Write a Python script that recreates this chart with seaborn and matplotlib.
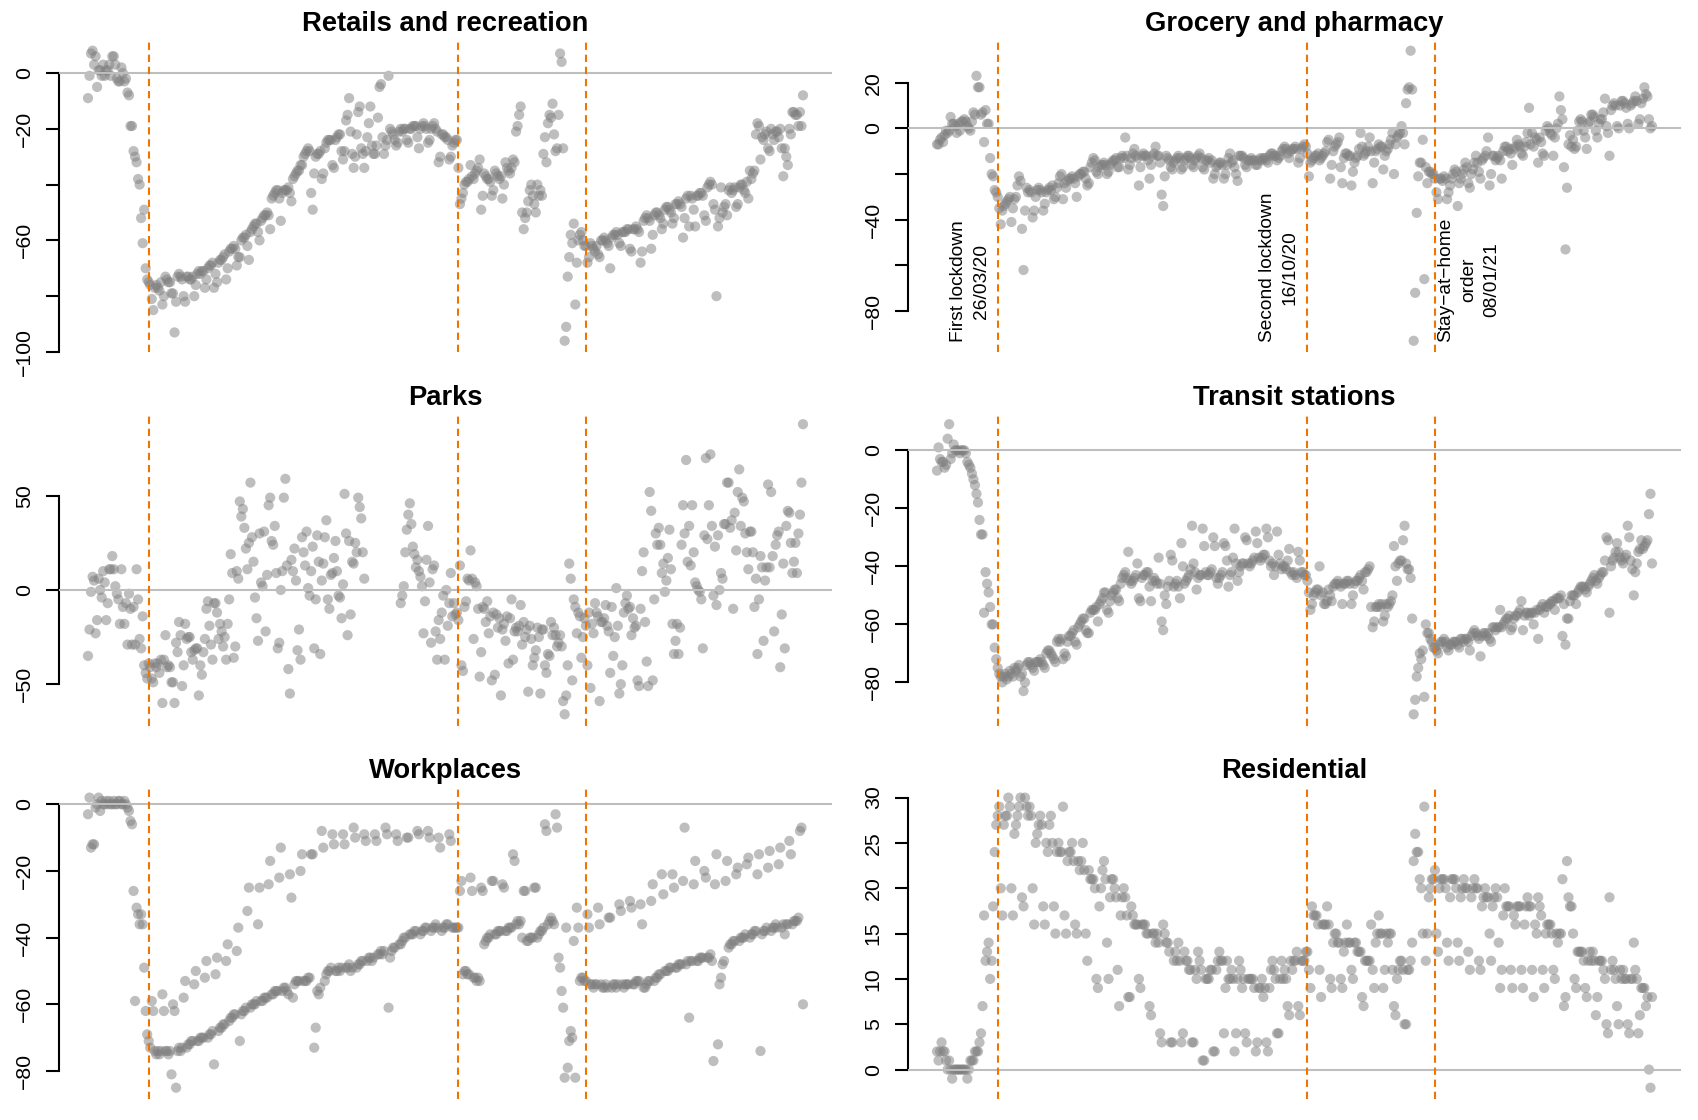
import numpy as np
import pandas as pd
import matplotlib
matplotlib.use("Agg")
import matplotlib.pyplot as plt
import seaborn as sns

# ---------------- data (Google mobility, Northern Ireland, % change from baseline) ----------------
START_DATE = "2020-02-15"
EVENT_DATES = ["2020-03-26", "2020-10-16", "2021-01-08"]
EVENT_LABELS = ["First lockdown\n26/03/20", "Second lockdown\n16/10/20",
                "Stay\u2212at\u2212home\norder\n08/01/21"]
TITLES = ["Retails and recreation", "Grocery and pharmacy", "Parks",
          "Transit stations", "Workplaces", "Residential"]
nan = np.nan

# each row = one week, Saturday ... Friday
retail_weeks = [
    [-9, -1, 7, 8, 3, 6, -5], [1, 1, -1, 3, -1, 1, 1], [3, -1, 6, 6, 3, -2, -3],
    [-3, 2, 0, -3, -2, -7, -8], [-19, -19, -28, -30, -32, -38, -40], [-52, -61, -49, -70, -74, -75, -76],
    [-81, -85, -77, -76, -77, -78, -75], [-83, -80, -73, -74, -75, -75, -79], [-79, -93, -82, -73, -72, -73, -74],
    [-80, -82, -73, -73, -74, -74, -73], [-80, -76, -72, -71, -72, -71, -71], [-77, -74, -70, -69, -69, -68, -77],
    [-72, -75, -68, -67, -67, -66, -65], [-74, -70, -64, -63, -63, -62, -63], [-69, -66, -66, -60, -59, -59, -58],
    [-62, -67, -57, -56, -55, -54, -54], [-57, -60, -53, -52, -51, -51, -50], [-51, -56, -45, -44, -43, -42, -42],
    [-45, -53, -43, -42, -42, -42, -41], [-43, -46, -38, -37, -36, -35, -35], [-33, -33, -30, -29, -28, -27, -28],
    [-43, -49, -36, -30, -29, -29, -28], [-38, -36, -27, -25, -24, -24, -24], [-33, -34, -24, -23, -22, -22, -28],
    [-31, -28, -17, -15, -9, -21, -29], [-34, -30, -22, -14, -12, -27, -29], [-34, -28, -23, -18, -12, -26, -29],
    [-29, -26, -16, -5, -4, -23, -29], [-26, -24, -1, -20, -21, -22, -24], [-26, -25, -21, -20, -21, -20, -20],
    [-24, -25, -20, -20, -19, -19, -19], [-23, -27, -20, -19, -18, -19, -20], [-25, -24, -20, -19, -18, -20, -21],
    [-32, -30, -22, -22, -23, -23, -24], [-31, -30, -26, -25, -24, -24, -34], [-47, -45, -43, -40, -39, -39, -38],
    [-33, -37, -38, -36, -35, -34, -31], [-49, -44, -36, -37, -38, -38, -39], [-44, -42, -35, -36, -37, -38, -37],
    [-45, -40, -32, -34, -35, -36, -34], [-31, -32, -21, -19, -15, -12, -50], [-56, -52, -50, -46, -42, -40, -44],
    [-47, -50, -40, -44, -42, -44, -29], [-23, -32, -18, -15, -16, -11, -22], [-28, -27, -15, 7, 4, -27, -96],
    [-91, -73, -66, -58, -61, -54, -83], [-68, -60, -58, -57, -60, -62, -62], [-68, -66, -61, -62, -63, -64, -62],
    [-65, -66, -60, -60, -59, -60, -61], [-62, -70, -59, -58, -58, -57, -58], [-61, -62, -57, -57, -57, -56, -56],
    [-63, -64, -56, -56, -55, -56, -57], [-68, -64, -53, -52, -51, -52, -53], [-63, -58, -51, -50, -50, -51, -52],
    [-56, -54, -49, -48, -48, -49, -50], [-54, -52, -47, -47, -46, -47, -48], [-59, -52, -45, -44, -55, -44, -45],
    [-49, -55, -44, -44, -43, -43, -44], [-51, -53, -41, -40, -39, -40, -47], [-49, -80, -55, -52, -41, -50, -48],
    [-47, -51, -42, -41, -43, -42, -41], [-48, -47, -41, -40, -40, -42, -43], [-39, -45, -35, -38, -36, -35, -22],
    [-18, -19, -31, -23, -24, -22, -21], [-27, -28, -20, -22, -24, -21, -21], [-23, -20, -27, -37, -27, -30, -33],
    [-20, -22, -14, -14, -15, -15, -19], [-14, -19, -8],
]

grocery_weeks = [
    [-7, -7, -5, -4, -6, -3, -1], [-2, -1, 5, 2, 2, 1, -2], [2, -1, 3, 3, 4, 3, 1],
    [0, -1, 3, 7, 6, 23, 18], [18, 6, 7, -6, 8, 2, 2], [-13, -20, -21, -27, -28, -30, -35],
    [-42, -36, -34, -33, -32, -31, -30], [-41, -35, -31, -30, -25, -21, -23], [-44, -62, -36, -26, -28, -27, -28],
    [-39, -36, -30, -27, -26, -27, -28], [-36, -33, -28, -27, -26, -27, -25], [-31, -30, -26, -24, -21, -20, -31],
    [-24, -26, -23, -22, -22, -21, -22], [-24, -30, -21, -20, -20, -19, -19], [-22, -25, -24, -17, -15, -13, -14],
    [-19, -20, -17, -16, -16, -15, -16], [-20, -19, -16, -15, -14, -14, -13], [-17, -17, -13, -12, -13, -4, -12],
    [-18, -16, -13, -11, -9, -12, -13], [-25, -17, -12, -11, -12, -12, -14], [-22, -16, -12, -11, -8, -12, -12],
    [-15, -29, -34, -21, -12, -13, -14], [-17, -18, -15, -14, -13, -12, -13], [-18, -17, -14, -13, -12, -12, -13],
    [-16, -17, -14, -13, -12, -11, -13], [-17, -18, -14, -14, -13, -15, -14], [-22, -20, -17, -16, -15, -15, -16],
    [-22, -20, -16, -13, -11, -15, -14], [-17, -20, -23, -12, -12, -12, -13], [-16, -17, -14, -14, -13, -14, -14],
    [-16, -16, -14, -13, -14, -13, -13], [-14, -15, -12, -11, -11, -12, -12], [-14, -13, -12, -10, -9, -8, -9],
    [-11, -13, -10, -9, -9, -8, -9], [-15, -13, -9, -8, -7, -8, -11], [-21, -15, -14, -13, -12, -12, -11],
    [-14, -13, -12, -11, -10, -6, -5], [-22, -16, -10, -8, -7, -6, -4], [-17, -24, -13, -11, -11, -12, -12],
    [-25, -19, -15, -13, -12, -9, -2], [-8, -12, -11, -10, -8, -4, -10], [-24, -15, -10, -9, -7, -8, -8],
    [-18, -12, -10, -9, -7, -5, -2], [-20, -7, -4, -3, -2, 1, -2], [-7, 11, 17, 18, 34, 17, -93],
    [-72, -37, -21, -15, -15, -5, -66], [-17, -24, -19, -19, -20, -20, -22], [-28, -31, -22, -22, -23, -21, -22],
    [-31, -28, -25, -22, -20, -18, -19], [-34, -24, -22, -20, -18, -15, -17], [-24, -26, -20, -18, -15, -12, -15],
    [-19, -22, -14, -13, -12, -10, -4], [-25, -20, -12, -12, -14, -13, -12], [-14, -22, -10, -8, -8, -10, -9],
    [-11, -16, -9, -8, -5, -7, -8], [-11, -12, -8, -6, -2, 9, -7], [-2, -8, -4, -5, -15, -4, -6],
    [-11, -12, -1, 1, 0, -2, -3], [-12, -4, 0, 2, 14, 8, 4], [-17, -53, -26, -7, -3, -8, -5],
    [-9, -8, -1, 3, 4, 3, -1], [-4, -9, 2, 3, 6, 6, 5], [-1, -4, 2, 4, 4, 7, 13],
    [1, -2, -12, 8, 10, 11, 10], [1, 0, 10, 12, 12, 11, 9], [2, 0, 10, 11, 12, 14, 12],
    [2, 4, 11, 13, 18, 15, 14], [4, 0, 1],
]

parks_weeks = [
    [-35, -21, -1, 7, 5, -23, -16], [6, 0, -4, 10, 4, -16, -7], [11, 11, 18, 11, 2, -2, -5],
    [-18, 11, -9, -18, -7, -29, -2], [-10, -29, -9, -29, 11, -5, -26], [-31, -14, -40, -44, -47, -39, -41],
    [-47, -49, -39, -41, -39, -44, -37], [-60, -37, -24, -41, -40, -41, -49], [-49, -60, -28, -33, -17, -24, -51],
    [-40, -18, -26, -25, -25, -33, -37], [-32, -31, -31, -56, -40, -45, -33], [-26, -10, -6, -19, -29, -37, -7],
    [-7, -12, -26, -18, -22, -30, -25], [-37, -18, -5, 19, 9, -36, -30], [10, 6, 47, 39, 43, 33, 22],
    [11, 25, 57, 28, 15, -4, -15], [-27, 30, 4, 2, 31, -22, 8], [45, 49, 26, 24, 34, 9, -31],
    [-28, 0, 10, 49, 59, 13, -42], [-55, 16, 10, 22, 5, -32, -21], [-37, 28, 20, 13, 31, 1, -3],
    [10, 23, -31, -5, 29, 15, -34], [5, 14, 28, 37, -5, -10, 8], [9, 17, 26, 10, -3, -4, -15],
    [3, 51, 30, -24, 26, -13, 15], [14, 25, 20, 49, 44, 38, 20], [6, nan, nan, nan, nan, nan, nan],
    [nan, nan, nan, nan, nan, nan, nan], [nan, nan, nan, nan, nan, nan, nan], [nan, nan, nan, -7, -3, 2, 20],
    [32, 40, 46, 35, 23, 19, 12], [16, 10, 7, 2, -23, -6, 16], [34, 4, -28, 11, 13, -22, -37],
    [-16, -26, -12, -3, -37, 0, -19], [-7, 9, -14, -7, -13, -12, -16], [13, -40, -43, -9, -6, 6, 5],
    [21, 6, -26, 4, 2, -10, -46], [-33, -9, -10, -17, -6, -23, -14], [-48, -12, -45, -13, -20, -15, -56],
    [-21, -18, -27, -14, -39, -15, -5], [-37, -22, -20, -22, -19, -8, -29], [-17, -25, -21, -54, -19, -26, -40],
    [-36, -32, -20, -25, -55, -21, -21], [-40, -44, -34, -35, -17, -24, -20], [-24, -30, -28, -24, -30, -59, -66],
    [-56, -40, 14, 6, -48, -5, -9], [-23, -12, -14, -36, -25, -15, -19], [-40, -12, -52, -18, -23, -7, -12],
    [-14, -59, -17, -17, -15, -8, -19], [-22, -44, -9, -35, -25, 1, -19], [-55, -50, -40, -12, -7, -3, -10],
    [-9, -24, -15, -20, -19, -48, -51], [-10, 10, 20, -17, -38, -51, 52], [42, -48, -5, 30, 24, 33, 24],
    [9, 14, -1, 5, 17, 32, 11], [-18, -34, -27, -18, -34, -20, 24], [45, 30, 69, 15, 34, 13, 45],
    [20, 4, 2, 0, -1, -5, -31], [29, 70, 27, 45, 72, 34, -3], [23, -8, 29, 0, 9, 6, 35],
    [35, 57, 57, 33, 37, -10, 41], [21, 52, 64, 34, 49, 47, 30], [20, 11, 31, 31, 20, -9, 6],
    [-34, -5, 18, 12, -27, 5, 12], [56, 12, 52, 18, -22, 24, 29], [31, -41, -13, 14, -31, 34, 42],
    [41, 25, 9, 15, 25, 9, 30], [40, 57, 88],
]

transit_weeks = [
    [-7, 1, -3, -4, -4, -6, -5], [4, 9, -3, -1, 2, 0, 0], [0, -1, 0, 0, 0, -1, -4],
    [-5, -6, -8, -10, -12, -15, -18], [-24, -29, -29, -56, -42, -46, -49], [-54, -60, -60, -68, -72, -75, -77],
    [-78, -80, -78, -77, -79, -78, -76], [-77, -78, -75, -76, -75, -74, -78], [-77, -83, -80, -74, -73, -73, -74],
    [-75, -76, -73, -73, -73, -72, -73], [-74, -75, -70, -69, -69, -70, -71], [-72, -73, -66, -65, -66, -65, -72],
    [-70, -71, -66, -64, -64, -63, -62], [-66, -67, -61, -60, -59, -58, -58], [-62, -63, -63, -56, -55, -55, -55],
    [-54, -59, -53, -52, -51, -49, -49], [-55, -56, -52, -50, -49, -48, -48], [-51, -52, -46, -44, -43, -42, -44],
    [-35, -45, -46, -45, -44, -43, -39], [-51, -52, -44, -43, -43, -42, -42], [-47, -52, -45, -44, -45, -46, -37],
    [-46, -59, -62, -50, -53, -47, -45], [-36, -38, -47, -46, -45, -47, -51], [-32, -40, -46, -45, -44, -43, -41],
    [-26, -39, -42, -48, -44, -43, -43], [-27, -33, -42, -43, -43, -42, -41], [-30, -33, -44, -46, -44, -43, -42],
    [-32, -33, -38, -47, -43, -42, -37], [-27, -39, -45, -42, -40, -39, -39], [-30, -31, -39, -40, -39, -38, -37],
    [-28, -32, -37, -38, -37, -36, -36], [-27, -30, -38, -40, -39, -43, -40], [-28, -36, -39, -41, -40, -40, -41],
    [-38, -34, -42, -43, -42, -43, -44], [-35, -38, -42, -42, -43, -43, -45], [-49, -55, -53, -50, -49, -48, -48],
    [-40, -50, -49, -53, -53, -52, -48], [-50, -52, -47, -46, -46, -45, -46], [-47, -53, -46, -46, -45, -45, -46],
    [-53, -50, -46, -45, -45, -44, -43], [-45, -48, -42, -42, -41, -40, -54], [-61, -59, -54, -54, -53, -54, -53],
    [-59, -57, -53, -54, -53, -52, -50], [-33, -40, -45, -39, -38, -38, -31], [-26, -39, -41, -41, -44, -58, -91],
    [-86, -78, -75, -70, -72, -69, -85], [-60, -63, -63, -65, -66, -68, -68], [-69, -70, -67, -66, -66, -65, -66],
    [-68, -69, -67, -67, -66, -66, -66], [-67, -68, -65, -65, -66, -65, -65], [-66, -69, -64, -63, -62, -63, -64],
    [-65, -71, -64, -63, -63, -64, -63], [-65, -66, -61, -61, -62, -61, -61], [-55, -61, -60, -59, -58, -58, -57],
    [-62, -61, -58, -57, -57, -56, -55], [-52, -62, -57, -56, -56, -57, -56], [-56, -60, -56, -55, -65, -55, -54],
    [-53, -56, -54, -54, -53, -53, -52], [-52, -55, -51, -51, -51, -50, -64], [-53, -67, -58, -58, -52, -50, -50],
    [-50, -53, -49, -48, -47, -47, -47], [-48, -49, -47, -46, -45, -44, -43], [-45, -46, -44, -43, -42, -42, -38],
    [-30, -31, -56, -40, -38, -37, -35], [-32, -35, -37, -38, -39, -37, -36], [-26, -30, -38, -41, -50, -42, -39],
    [-35, -34, -31, -34, -33, -32, -31], [-22, -15, -39],
]

workplaces_weeks = [
    [-3, 2, -13, -12, -12, -1, 0], [2, -2, 1, 0, 0, 1, 0], [1, 0, 0, 1, 0, 0, 1],
    [1, 0, 0, 1, 0, -1, -2], [-5, -6, -26, -59, -31, -33, -36], [-33, -36, -49, -62, -69, -71, -73],
    [-59, -62, -74, -75, -74, -75, -74], [-57, -62, -74, -74, -75, -74, -81], [-60, -62, -85, -74, -73, -74, -73],
    [-58, -53, -73, -72, -72, -71, -71], [-54, -50, -71, -71, -70, -70, -70], [-52, -47, -70, -69, -69, -68, -78],
    [-51, -46, -68, -67, -67, -66, -66], [-47, -42, -65, -64, -64, -63, -63], [-44, -37, -71, -63, -62, -62, -61],
    [-32, -25, -61, -60, -60, -60, -59], [-36, -25, -59, -59, -58, -58, -58], [-24, -17, -57, -57, -56, -56, -56],
    [-22, -13, -56, -55, -55, -56, -57], [-21, -28, -58, -54, -53, -53, -53], [-20, -15, -53, -53, -53, -52, -52],
    [-15, -15, -73, -67, -56, -57, -55], [-8, -13, -53, -51, -50, -50, -49], [-9, -12, -50, -50, -49, -50, -49],
    [-9, -12, -49, -49, -48, -50, -49], [-7, -10, -49, -48, -48, -47, -47], [-9, -11, -47, -46, -46, -47, -46],
    [-9, -11, -45, -45, -44, -45, -44], [-7, -9, -61, -46, -44, -43, -43], [-9, -11, -42, -42, -41, -40, -40],
    [-10, -10, -39, -39, -39, -38, -38], [-8, -9, -39, -38, -38, -37, -37], [-8, -10, -38, -37, -37, -36, -37],
    [-10, -13, -38, -37, -37, -36, -36], [-9, -11, -37, -37, -37, -37, -37], [-26, -23, -51, -50, -50, -51, -51],
    [-22, -26, -52, -52, -53, -52, -53], [-25, -26, -42, -41, -40, -40, -39], [-23, -23, -39, -39, -38, -38, -38],
    [-24, -25, -38, -38, -37, -37, -37], [-15, -17, -36, -35, -36, -35, -40], [-26, -26, -41, -41, -40, -40, -40],
    [-25, -25, -40, -39, -38, -38, -37], [-6, -8, -36, -35, -34, -35, -36], [-3, -7, -46, -49, -56, -61, -82],
    [-37, -79, -71, -68, -70, -41, -82], [-31, -37, -53, -52, -52, -53, -53], [-33, -37, -54, -54, -55, -54, -54],
    [-31, -36, -54, -55, -55, -54, -55], [-34, -34, -55, -54, -54, -55, -54], [-30, -32, -54, -55, -54, -54, -54],
    [-29, -31, -54, -54, -53, -53, -53], [-30, -36, -55, -55, -54, -53, -53], [-29, -24, -53, -52, -52, -51, -51],
    [-21, -27, -50, -50, -50, -49, -49], [-21, -25, -49, -49, -48, -48, -48], [-23, -7, -48, -47, -64, -47, -47],
    [-24, -17, -47, -47, -46, -46, -46], [-20, -22, -46, -46, -45, -47, -77], [-24, -15, -72, -54, -52, -48, -47],
    [-23, -17, -43, -42, -42, -41, -41], [-21, -19, -41, -40, -40, -40, -39], [-18, -16, -40, -39, -39, -38, -38],
    [-21, -15, -74, -39, -38, -38, -37], [-19, -14, -38, -37, -37, -36, -37], [-18, -13, -37, -36, -39, -36, -36],
    [-11, -15, -36, -35, -35, -35, -34], [-8, -7, -60],
]

residential_weeks = [
    [2, 1, 2, 3, 2, 2, 1], [0, 1, 0, -1, 0, 0, 0], [0, 0, 0, 0, 0, 0, -1],
    [0, 1, 1, 1, 2, 2, 2], [3, 4, 7, 17, 12, 13, 14], [10, 12, 18, 24, 27, 28, 29],
    [20, 17, 27, 28, 28, 30, 29], [20, 17, 26, 27, 28, 29, 30], [19, 18, 30, 29, 28, 29, 28],
    [20, 16, 25, 26, 27, 28, 27], [18, 16, 25, 24, 27, 28, 25], [18, 15, 24, 25, 24, 24, 29],
    [17, 15, 23, 24, 24, 25, 23], [16, 15, 23, 22, 23, 25, 22], [15, 12, 22, 21, 21, 21, 20],
    [10, 9, 18, 20, 22, 23, 21], [14, 10, 19, 21, 21, 20, 19], [11, 7, 17, 19, 20, 19, 17],
    [8, 8, 18, 17, 16, 16, 16], [10, 9, 16, 16, 16, 15, 15], [7, 6, 15, 15, 14, 15, 14],
    [4, 3, 16, 15, 14, 14, 13], [3, 3, 12, 13, 12, 14, 12], [3, 4, 13, 12, 12, 11, 11],
    [3, 3, 11, 10, 13, 12, 11], [1, 1, 10, 10, 10, 11, 11], [2, 2, 11, 12, 13, 12, 12],
    [4, 9, 12, 10, 10, 11, 10], [2, 4, 10, 12, 11, 9, 10], [4, 3, 10, 10, 10, 10, 9],
    [2, 3, 9, 9, 10, 8, 9], [3, 2, 9, 11, 12, 11, 10], [4, 4, 10, 12, 10, 11, 10],
    [7, 6, 12, 11, 12, 12, 13], [7, 6, 12, 12, 12, 13, 13], [11, 9, 18, 17, 17, 17, 16],
    [11, 8, 16, 16, 16, 18, 16], [10, 9, 14, 15, 15, 14, 14], [10, 9, 13, 14, 16, 14, 14],
    [11, 10, 14, 14, 13, 13, 13], [8, 7, 12, 12, 12, 12, 16], [11, 9, 14, 15, 17, 15, 15],
    [9, 11, 15, 14, 15, 15, 11], [7, 6, 10, 11, 12, 12, 11], [5, 5, 11, 11, 12, 14, 23],
    [26, 24, 24, 21, 20, 15, 29], [12, 15, 19, 20, 21, 21, 22], [15, 13, 20, 21, 21, 21, 20],
    [14, 12, 19, 21, 21, 21, 20], [14, 12, 19, 20, 21, 20, 20], [13, 11, 19, 20, 21, 20, 20],
    [12, 11, 18, 19, 20, 19, 19], [15, 12, 18, 19, 20, 19, 14], [9, 11, 17, 20, 18, 18, 18],
    [11, 9, 17, 16, 18, 18, 18], [11, 9, 16, 18, 19, 18, 18], [11, 8, 16, 15, 19, 18, 17],
    [11, 9, 15, 16, 16, 16, 15], [11, 10, 15, 14, 15, 15, 21], [7, 8, 23, 19, 18, 18, 15],
    [10, 9, 13, 13, 13, 13, 12], [9, 8, 12, 13, 12, 13, 12], [6, 8, 12, 12, 12, 11, 10],
    [5, 4, 19, 11, 12, 11, 10], [7, 5, 11, 10, 11, 10, 10], [5, 4, 10, 10, 14, 11, 10],
    [4, 6, 9, 9, 9, 7, 8], [0, -2, 8],
]

# y-axis set-up per panel (ticks, which of them carry labels, limits)
Y_TICKS = [[0, -20, -40, -60, -80, -100], [20, 0, -20, -40, -60, -80], [50, 0, -50],
           [0, -20, -40, -60, -80], [0, -20, -40, -60, -80], [0, 5, 10, 15, 20, 25, 30]]
Y_LABELLED = [[0, -20, -60, -100], [20, 0, -40, -80], [50, 0, -50],
              [0, -20, -40, -60, -80], [0, -20, -40, -60, -80], [0, 5, 10, 15, 20, 25, 30]]
Y_LIMS = [(-100.16, 12.16), (-98.08, 39.08), (-72.16, 94.16),
          (-95.0, 13.0), (-88.48, 5.48), (-3.28, 31.28)]


def flatten(weeks):
    return [v for w in weeks for v in w]


series = {
    "retail": flatten(retail_weeks),
    "grocery": flatten(grocery_weeks),
    "parks": flatten(parks_weeks),
    "transit": flatten(transit_weeks),
    "workplaces": flatten(workplaces_weeks),
    "residential": flatten(residential_weeks),
}
df = pd.DataFrame({k: pd.Series(v, dtype=float) for k, v in series.items()})
df["date"] = pd.date_range(START_DATE, periods=len(df), freq="D")
cols = ["retail", "grocery", "parks", "transit", "workplaces", "residential"]

# ---------------- style ----------------
sns.set_style("white")
plt.rcParams["font.family"] = ["Liberation Sans", "DejaVu Sans"]
plt.rcParams["axes.unicode_minus"] = True
plt.rcParams["text.color"] = "black"
plt.rcParams["axes.titlecolor"] = "black"
plt.rcParams["ytick.color"] = "black"
plt.rcParams["ytick.labelcolor"] = "black"

W, H = 1698, 1120
fig = plt.figure(figsize=(W / 100, H / 100), dpi=100)

col_left = [59.4, 908.4]
ax_w = 772.2
row_top = [39.1, 412.6, 786.0]
ax_h = 313.3

start = pd.Timestamp(START_DATE)
xlim = (start + pd.Timedelta(days=-18.84), start + pd.Timedelta(days=489.84))
events = [pd.Timestamp(d) for d in EVENT_DATES]

POINT_COLOR = "#7f7f7f"
ORANGE = "#EE7600"
ZERO_GRAY = "#BEBEBE"

for i, col in enumerate(cols):
    r, c = divmod(i, 2)
    left = col_left[c] / W
    bottom = 1 - (row_top[r] + ax_h) / H
    ax = fig.add_axes([left, bottom, ax_w / W, ax_h / H])
    sns.scatterplot(data=df, x="date", y=col, ax=ax, color=POINT_COLOR, alpha=0.5,
                    s=54, linewidth=0, edgecolor="none", legend=False, zorder=2)
    ax.axhline(0, color=ZERO_GRAY, lw=1.5, zorder=3)
    for ev in events:
        ax.axvline(ev, color=ORANGE, lw=1.5, ls=(0, (3.5, 2.3)), zorder=4)
    ax.set_xlim(*xlim)
    ax.set_ylim(*Y_LIMS[i])
    ax.set_xlabel("")
    ax.set_ylabel("")
    ax.set_xticks([])
    for s in ("top", "right", "bottom"):
        ax.spines[s].set_visible(False)
    ticks = Y_TICKS[i]
    ax.spines["left"].set_bounds(min(ticks), max(ticks))
    ax.spines["left"].set_linewidth(1.5)
    ax.spines["left"].set_color("black")
    ax.set_yticks(ticks)
    labels = [(str(t).replace("-", "\u2212") if t in Y_LABELLED[i] else "") for t in ticks]
    ax.set_yticklabels(labels, rotation=90, va="center", color="black")
    ax.tick_params(axis="y", direction="out", length=9.4, width=1.5, pad=9.0,
                   labelsize=15.3, colors="black", left=True)
    ax.set_title(TITLES[i], fontsize=19.7, fontweight="bold", pad=5.8, color="black")
    ax.set_facecolor("white")

    if col == "grocery":
        y_txt = -93.6
        offsets = [(-5.8, "right"), (-6.5, "right"), (1.8, "left")]
        for ev, lab, (dx, ha) in zip(events, EVENT_LABELS, offsets):
            ax.annotate(lab, xy=(ev, y_txt), xytext=(dx, 0), textcoords="offset points",
                        rotation=90, ha=ha, va="bottom", fontsize=13.75, color="black",
                        multialignment="center", linespacing=1.45, zorder=5)

fig.savefig("out.png", dpi=100, facecolor="white")
